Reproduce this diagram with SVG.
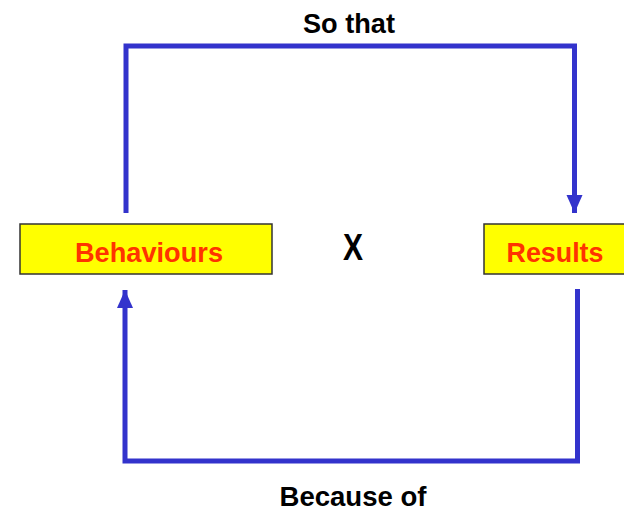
<svg xmlns="http://www.w3.org/2000/svg" width="624" height="511" viewBox="0 0 624 511">
<defs>
<style>
.box{fill:#ffff00;stroke:#333333;stroke-width:1.5}
.lbl{font-family:"Liberation Sans",Arial,sans-serif;font-weight:bold;fill:#ff3300;text-anchor:middle}
.cap{font-family:"Liberation Sans",Arial,sans-serif;font-weight:bold;fill:#000000;text-anchor:middle}
.conn{fill:none;stroke:#3333cc;stroke-width:5;stroke-linejoin:miter}
</style>
<marker id="arr" markerUnits="userSpaceOnUse" markerWidth="18" markerHeight="18" viewBox="0 0 18 18" refX="18" refY="9" orient="auto">
<path d="M0,1 L18,9 L0,17 Z" fill="#3333cc"/>
</marker>
</defs>
<rect width="624" height="511" fill="#ffffff"/>
<g id="connectors">
<path class="conn" d="M126,213 L126,46 L574.5,46 L574.5,213" marker-end="url(#arr)"/>
<path class="conn" d="M577.5,289 L577.5,461 L125,461 L125,290" marker-end="url(#arr)"/>
</g>
<g id="behaviours">
<rect class="box" x="20" y="224" width="252" height="50"/>
<text class="lbl" x="149" y="262" font-size="28" textLength="148" lengthAdjust="spacingAndGlyphs">Behaviours</text>
</g>
<g id="results">
<rect class="box" x="484" y="224" width="142" height="50"/>
<text class="lbl" x="555" y="262" font-size="28" textLength="97" lengthAdjust="spacingAndGlyphs">Results</text>
</g>
<g id="x">
<text class="cap" x="353" y="260" font-size="36" textLength="20" lengthAdjust="spacingAndGlyphs">X</text>
</g>
<g id="so-that">
<text class="cap" x="349" y="33" font-size="28" textLength="92" lengthAdjust="spacingAndGlyphs">So that</text>
</g>
<g id="because-of">
<text class="cap" x="353" y="506" font-size="27" textLength="147" lengthAdjust="spacingAndGlyphs">Because of</text>
</g>
</svg>
